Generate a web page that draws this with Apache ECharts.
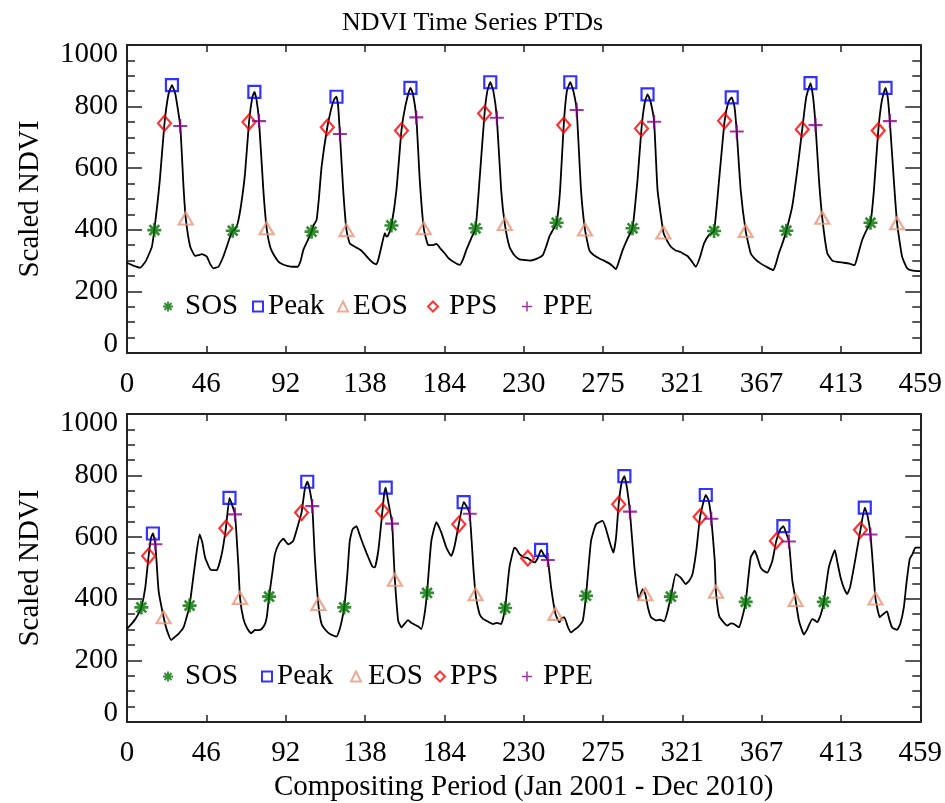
<!DOCTYPE html>
<html>
<head>
<meta charset="utf-8">
<script src="https://cdn.jsdelivr.net/npm/echarts@6/dist/echarts.min.js"></script>
<style>html,body{margin:0;padding:0;background:#fff}#chart{width:945px;height:803px}</style>
</head>
<body>
<div id="chart"></div>
<script>
// ---------------- DATA ----------------
const titleText = 'NDVI Time Series PTDs';
const yAxisName = 'Scaled NDVI';
const xAxisName = 'Compositing Period (Jan 2001 - Dec 2010)';
const xTickLabels = ['0','46','92','138','184','230','275','321','367','413','459'];
const seriesNames = ['SOS','Peak','EOS','PPS','PPE'];

// Top panel NDVI curve [compositing period, scaled NDVI]
const topLine = [[0,293],[4,283],[7.7,277],[11,300],[14.4,345],[15.8,399],[17.5,480],[19,562],[21.7,746],[24,840],[26,870],[28,840],[30.8,737],[32.7,540],[34,437],[36.6,345],[39.5,315],[41.5,318],[43.3,321],[46.2,313],[48,290],[50,275],[52.9,280],[55.5,310],[57.7,345],[59.5,375],[61.2,397],[62.5,402],[64,420],[66,480],[68.3,583],[70.6,750],[72.5,830],[73.7,848],[75,820],[76.4,753],[78.9,529],[80.8,405],[82.8,345],[85,318],[87.6,297],[90,288],[93.3,282],[96,280],[98.7,280],[100.5,300],[102,334],[104.5,365],[106.8,394],[108,415],[109.7,432],[111,500],[112.6,605],[115.9,733],[118.5,800],[120,825],[121.2,832],[122.2,800],[123.2,711],[125.1,529],[127,399],[128.9,356],[131.8,345],[133.5,340],[135.7,332],[138,318],[140.5,302],[142.5,292],[144.3,288],[145.5,305],[147.2,345],[149.2,389],[150.1,378],[151,380],[153,414],[155.9,529],[158.8,722],[161,800],[164,861],[165.5,840],[167.4,765],[169.4,562],[171.7,405],[174.2,351],[176.5,350],[179,354],[181.5,338],[183.8,324],[186,308],[188.6,297],[192.5,286],[194.5,305],[196.3,334],[199,370],[201.7,405],[204,562],[206.9,778],[208.5,850],[210.2,879],[212,850],[214,764],[216.5,529],[218.6,419],[221.3,345],[224,318],[227.1,304],[230,302],[232.9,300],[236.5,305],[240.6,318],[242.5,345],[244.4,378],[246.5,400],[248.6,423],[250.6,529],[252.7,740],[254.5,850],[256.5,879],[258.3,850],[260.2,789],[262.7,529],[265,401],[267.5,334],[270,318],[273.3,307],[276,300],[279,291],[281,282],[282.9,272],[284.5,295],[286.8,334],[289.5,370],[292.5,405],[295.4,562],[297.7,729],[299.5,810],[301.2,840],[303,815],[305,751],[307,529],[310.4,391],[312.5,365],[314.7,345],[317.5,333],[320.4,328],[322,322],[324.3,315],[326.5,300],[329.1,280],[331.5,310],[333.9,356],[337,385],[339.7,396],[342.6,562],[345.8,754],[348,815],[349.9,830],[351.5,800],[352.8,719],[355.1,529],[358,396],[360.9,324],[363.5,305],[366.6,291],[370,280],[374,269],[375.5,290],[377.2,324],[379.5,360],[381.5,397],[384.9,475],[388,600],[390.7,726],[393,830],[395.5,876],[397,830],[398.4,740],[400.4,562],[402.3,439],[405.2,324],[408.1,300],[411,296],[414.8,293],[418,290],[421,285],[423,320],[425.4,367],[428,400],[430.2,423],[432.2,529],[434.7,722],[436.8,820],[438.9,861],[440.2,830],[441.4,753],[443.7,562],[445.6,421],[448.5,313],[451.4,275],[454,268],[458,266],[459,266]];

const topSOS  = [[15.8,399],[61.2,397],[106.8,394],[153,414],[201.7,405],[248.6,423],[292.5,405],[339.7,396],[381.5,397],[430.2,423]];
const topPeak = [[26,870],[73.7,848],[121.2,832],[164,861],[210.2,879],[256.5,879],[301.2,840],[349.9,830],[395.5,876],[438.9,861]];
const topEOS  = [[34,437],[80.8,405],[127,399],[171.7,405],[218.6,419],[265,401],[310.4,391],[358,396],[402.3,439],[445.6,421]];
const topPPS  = [[21.7,746],[70.6,750],[115.9,733],[158.8,722],[206.9,778],[252.7,740],[297.7,729],[345.8,754],[390.7,726],[434.7,722]];
const topPPE  = [[30.8,737],[76.4,753],[123.2,711],[167.4,765],[214,764],[260.2,789],[305,751],[352.8,719],[398.4,740],[441.4,753]];

// Bottom panel NDVI curve
const bottomLine = [[0,302],[2.5,318],[4.8,334],[6.5,350],[8.3,372],[10.6,437],[12.5,539],[14,600],[15,612],[16.4,577],[18.3,426],[21.2,340],[23,300],[25.6,266],[27.5,275],[29.8,286],[32.7,307],[34.5,340],[36.2,378],[39.1,502],[42,609],[43.5,585],[45.2,534],[48.1,496],[50,493],[52,493],[54.8,545],[57.2,629],[59.3,728],[60.5,710],[62.5,674],[64.5,502],[65.4,403],[67.4,334],[69.5,305],[71.8,288],[74.1,299],[76,298],[77.9,302],[80,320],[81,345],[82.2,407],[84,480],[85.6,545],[88,580],[90.5,595],[93.3,577],[96.2,588],[99.1,642],[101,680],[103,760],[104.3,780],[105.5,760],[107.2,701],[108.7,534],[110.7,383],[112.6,318],[115,298],[117.4,286],[121.2,277],[123,300],[124.5,335],[125.7,372],[127.5,480],[128.9,588],[130.5,625],[132.8,636],[134.5,610],[136.6,577],[138.5,550],[140.5,523],[142,505],[143.4,502],[145.5,560],[147.8,685],[148.8,740],[149.7,761],[151,720],[153.4,644],[154.3,540],[155,462],[156.9,329],[158.8,307],[160.5,318],[162.6,331],[164.5,322],[166.5,316],[168.5,310],[170.3,302],[172.2,351],[173.6,419],[176.1,588],[179,649],[181.9,615],[184.8,566],[187.6,539],[189.5,570],[192,642],[194.8,714],[196.5,700],[198.3,676],[200.4,502],[201.7,415],[204,351],[206,335],[207.9,329],[210,322],[211.7,318],[214,322],[216.5,318],[218.8,370],[221.3,502],[224.2,566],[225.5,560],[227.1,545],[229.5,535],[231.9,532],[233.5,525],[235.8,518],[237.5,530],[239.6,559],[241.5,540],[243.5,526],[245.4,437],[247.9,351],[250.2,324],[251.7,338],[253.1,340],[255,310],[257,291],[259,300],[260.8,307],[263.7,329],[265.6,410],[268.5,588],[271.4,642],[275.2,653],[277,630],[279.1,588],[281.4,550],[283,600],[284.5,707],[286.3,780],[287.8,798],[289.3,760],[291,683],[293.6,502],[296.1,399],[298.4,431],[299.9,415],[301.5,370],[303.2,340],[306,330],[308.5,332],[310.8,327],[312.8,360],[314.7,407],[317.6,480],[320.4,469],[323.3,448],[325.5,460],[327.2,480],[329.5,560],[331.6,666],[334.9,737],[336.5,720],[338.1,660],[340.1,523],[340.8,423],[342.6,345],[345,325],[347.4,313],[349.5,320],[351.2,318],[354.1,307],[356,340],[358,390],[360.9,534],[363.2,556],[365,530],[366.6,502],[368.5,490],[370.5,485],[373.4,523],[375.7,588],[378,625],[379.8,636],[381.3,615],[383,586],[385,458],[386.9,396],[388.8,329],[391.7,284],[393.5,300],[396.5,334],[398,330],[399.4,324],[401.5,350],[403.2,390],[406.1,502],[409.6,558],[411,520],[412.9,469],[414.8,435],[416.7,415],[418.5,440],[420.6,502],[424.4,624],[426.9,696],[428.5,670],[430.2,609],[431.7,502],[433.1,401],[435.6,340],[437.5,350],[439.8,359],[441,335],[442.7,307],[445.6,299],[447.5,320],[449.5,372],[451,450],[452.9,529],[454.5,545],[456.2,566],[459,566]];

const bottomSOS  = [[8.3,372],[36.2,378],[82.2,407],[125.7,372],[173.6,419],[218.8,370],[265.6,410],[314.7,407],[358,390],[403.2,390]];
const bottomPeak = [[15,612],[59.3,728],[104.3,780],[149.7,761],[194.8,714],[239.6,559],[287.8,798],[334.9,737],[379.8,636],[426.9,696]];
const bottomEOS  = [[21.2,340],[65.4,403],[110.7,383],[155,462],[201.7,415],[247.9,351],[299.9,415],[340.8,423],[386.9,396],[433.1,401]];
const bottomPPS  = [[12.5,539],[57.2,629],[101,680],[147.8,685],[192,642],[231.9,532],[284.5,707],[331.6,666],[375.7,588],[424.4,624]];
const bottomPPE  = [[16.4,577],[62.5,674],[107.2,701],[153.4,644],[198.3,676],[243.5,526],[291,683],[338.1,660],[383,586],[430.2,609]];

// ---------------- STYLE / LAYOUT ----------------
const FONT = '"Liberation Serif", "DejaVu Serif", serif';
const AXC = '#222';
const ASTERISK = 'path://M8.1,0h3.8v20h-3.8z M0,8.1h20v3.8h-20z M1.6,4.3L4.3,1.6L18.4,15.7L15.7,18.4z M15.7,1.6L18.4,4.3L4.3,18.4L1.6,15.7z';
const PLUS = 'path://M8.5,0h3v8.5h8.5v3h-8.5v8.5h-3v-8.5h-8.5v-3h8.5z';
const markerStyle = {
  SOS:  {symbol: ASTERISK, size: 14, itemStyle: {color: '#007000'}},
  Peak: {symbol: 'rect', size: 12, itemStyle: {color: 'transparent', borderColor: '#0000ff', borderWidth: 2.2}},
  EOS:  {symbol: 'triangle', size: [14, 12], itemStyle: {color: 'transparent', borderColor: '#e9967a', borderWidth: 2.2}},
  PPS:  {symbol: 'diamond', size: [13, 15], itemStyle: {color: 'transparent', borderColor: '#ff0000', borderWidth: 2.2}},
  PPE:  {symbol: PLUS, size: 14, itemStyle: {color: '#8b008b'}}
};
const grids = [
  {left: 127, top: 45, width: 795, height: 308},
  {left: 127, top: 414, width: 795, height: 309}
];
const legendLayout = [
  {top: 292, left: [163, 252, 337, 427, 522], pad: [7, 0, 0, 6, 6]},
  {top: 662, left: [163, 261, 350, 434, 522], pad: [7, 0, 2, 0, 6]}
];

function xAxisDef(g, pos, showLabels, withName) {
  return {
    type: 'value', gridIndex: g, position: pos, min: 0, max: 459, interval: 45.9,
    axisLine: {show: true, onZero: false, lineStyle: {color: AXC, width: 2}},
    axisTick: {show: true, inside: true, length: 7, lineStyle: {color: AXC, width: 1.5}},
    axisLabel: {show: showLabels, margin: 17, color: '#000', fontFamily: FONT, fontSize: 29,
      formatter: (v, i) => xTickLabels[i] !== undefined ? xTickLabels[i] : String(Math.round(v))},
    splitLine: {show: false},
    name: withName ? xAxisName : '', nameLocation: 'middle', nameGap: 51,
    nameTextStyle: {color: '#000', fontFamily: FONT, fontSize: 29}
  };
}
function yAxisDef(g, pos, showLabels) {
  return {
    type: 'value', gridIndex: g, position: pos, min: 0, max: 1000, interval: 200,
    axisLine: {show: true, onZero: false, lineStyle: {color: AXC, width: 2}},
    axisTick: {show: true, inside: true, length: 15, lineStyle: {color: AXC, width: 1.5}},
    minorTick: {show: true, splitNumber: 4, length: 8, lineStyle: {color: AXC, width: 1.5}},
    axisLabel: {show: showLabels, margin: 9, color: '#000', fontFamily: FONT, fontSize: 29,
      formatter: v => v === 1000 ? '{hi|1000}' : (v === 0 ? '{lo|0}' : String(v)),
      rich: {
        hi: {fontFamily: FONT, fontSize: 29, color: '#000', padding: [18, 0, 0, 0]},
        lo: {fontFamily: FONT, fontSize: 29, color: '#000', padding: [0, 0, 18, 0]}
      }},
    splitLine: {show: false},
    name: showLabels ? yAxisName : '', nameLocation: 'middle', nameGap: 82, nameRotate: 90,
    nameTextStyle: {color: '#000', fontFamily: FONT, fontSize: 29}
  };
}

const panelData = [
  {line: topLine, SOS: topSOS, Peak: topPeak, EOS: topEOS, PPS: topPPS, PPE: topPPE},
  {line: bottomLine, SOS: bottomSOS, Peak: bottomPeak, EOS: bottomEOS, PPS: bottomPPS, PPE: bottomPPE}
];

const series = [];
panelData.forEach((p, g) => {
  series.push({type: 'line', name: 'NDVI', xAxisIndex: g * 2, yAxisIndex: g * 2, data: p.line,
    symbol: 'none', showSymbol: false, smooth: 0.15, lineStyle: {color: '#000', width: 1.8}, z: 2, silent: true});
  seriesNames.forEach(n => {
    const m = markerStyle[n];
    series.push({type: 'scatter', name: n, xAxisIndex: g * 2, yAxisIndex: g * 2, data: p[n],
      symbol: m.symbol, symbolSize: m.size, itemStyle: m.itemStyle, z: 3});
  });
});

const legends = [];
legendLayout.forEach(L => {
  seriesNames.forEach((n, i) => {
    legends.push({data: [n], left: L.left[i], top: L.top, padding: 0, selectedMode: false,
      itemWidth: 10, itemHeight: 10,
      textStyle: {color: '#000', fontFamily: FONT, fontSize: 29, padding: [0, 0, 0, L.pad[i]]}});
  });
});

const chart = echarts.init(document.getElementById('chart'), null, {renderer: 'canvas'});
chart.setOption({
  animation: false,
  backgroundColor: '#fff',
  title: {text: titleText, left: 'center', top: 5,
    textStyle: {color: '#000', fontFamily: FONT, fontSize: 26, fontWeight: 'normal'}},
  grid: grids,
  xAxis: [xAxisDef(0, 'bottom', true, false), xAxisDef(0, 'top', false, false),
          xAxisDef(1, 'bottom', true, true), xAxisDef(1, 'top', false, false)],
  yAxis: [yAxisDef(0, 'left', true), yAxisDef(0, 'right', false),
          yAxisDef(1, 'left', true), yAxisDef(1, 'right', false)],
  legend: legends,
  series: series
});
</script>
</body>
</html>
